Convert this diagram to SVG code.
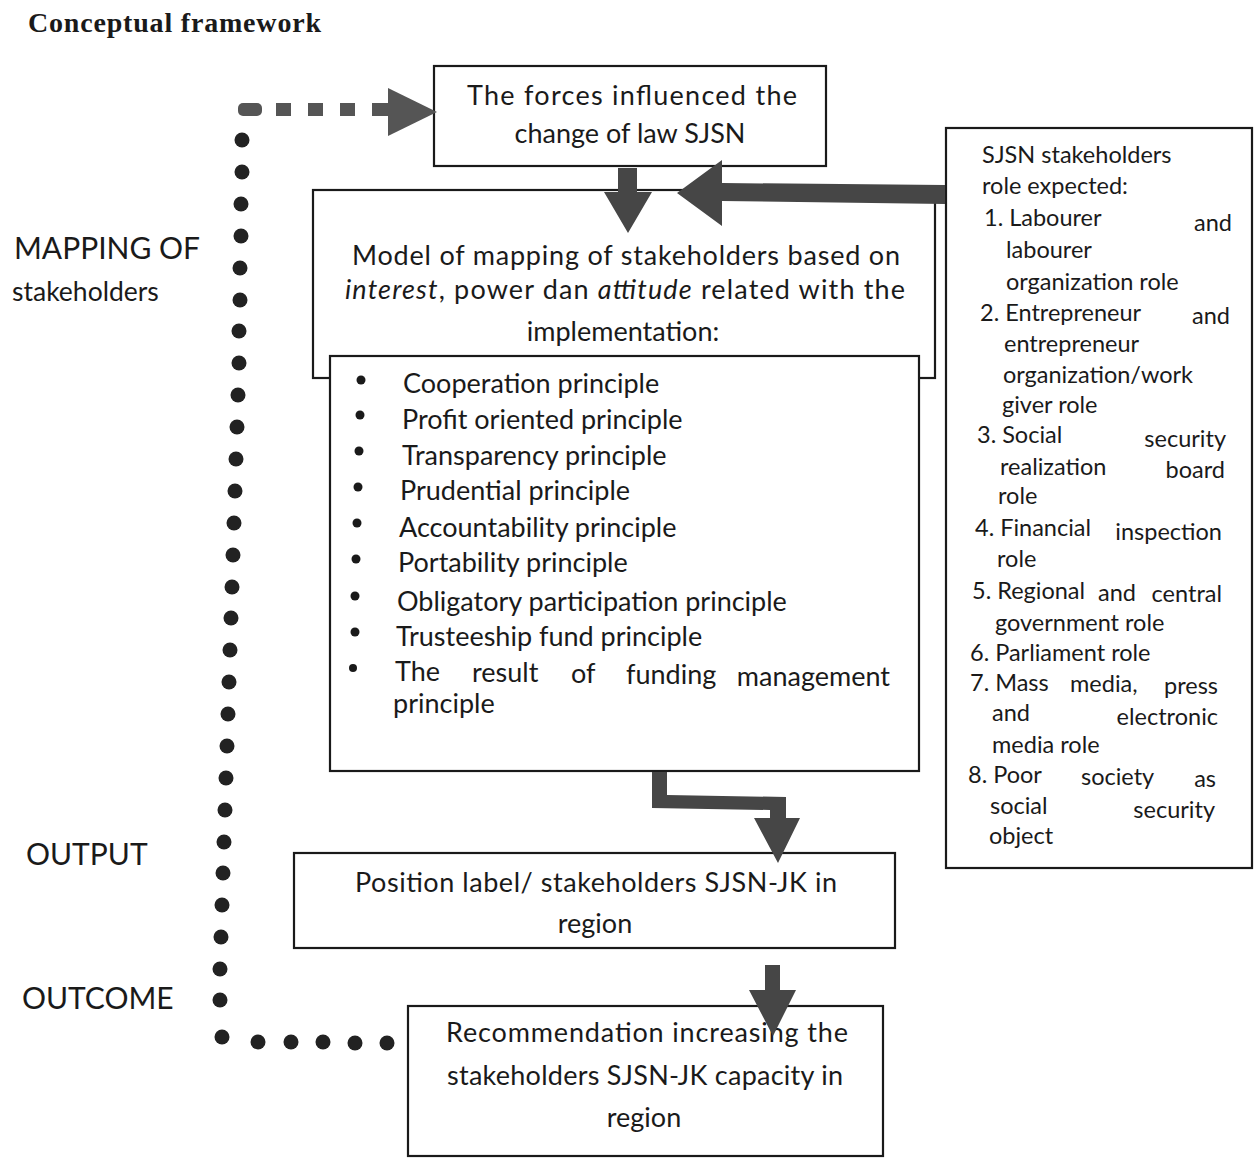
<svg xmlns="http://www.w3.org/2000/svg" width="1258" height="1163" viewBox="0 0 1258 1163">
<style>
.box{fill:#fff;stroke:#1a1a1a;stroke-width:2.2}
.t{font-family:Lato,"Open Sans","DejaVu Sans",sans-serif;fill:#1a1a1a}
.m{font-size:27px}
.r{font-size:23.5px}
.lb{font-size:30px}
.arr{fill:#464646}
.dash{fill:#555}
.dot{fill:#222}
</style>
<rect width="1258" height="1163" fill="#fff"/>
<text x="28" y="32" textLength="293" style="font-family:'Liberation Serif',serif;font-weight:bold;font-size:28px;fill:#1a1a1a">Conceptual framework</text>

<g id="labels">
<text class="t lb" x="14" y="259">MAPPING OF</text>
<text class="t" x="12" y="301" font-size="26.5">stakeholders</text>
<text class="t lb" x="26" y="865">OUTPUT</text>
<text class="t lb" x="22" y="1009">OUTCOME</text>
</g>

<g id="box1">
<rect class="box" x="434" y="66" width="392" height="100"/>
<text class="t m" x="632" y="105" text-anchor="middle" textLength="330" font-size="28">The forces influenced the</text>
<text class="t m" x="630" y="143" text-anchor="middle" font-size="28">change of law SJSN</text>
</g>

<g id="box2">
<rect class="box" x="313" y="190" width="622" height="188"/>
<text class="t m" x="626" y="265" text-anchor="middle" textLength="548">Model of mapping of stakeholders based on</text>
<text class="t m" x="625" y="299" text-anchor="middle" textLength="560"><tspan font-style="italic">interest</tspan>, power dan <tspan font-style="italic">attitude</tspan> related with the</text>
<text class="t m" x="623" y="341" text-anchor="middle">implementation:</text>
</g>

<g id="box3">
<rect class="box" x="330" y="356" width="589" height="415"/>
<g fill="#1a1a1a">
<circle cx="361" cy="380" r="4.5"/><circle cx="360" cy="415" r="4.5"/><circle cx="359" cy="451" r="4.5"/><circle cx="358" cy="487" r="4.5"/><circle cx="357" cy="523" r="4.5"/><circle cx="356" cy="559" r="4.5"/><circle cx="355" cy="596" r="4.5"/><circle cx="355" cy="632" r="4.5"/><circle cx="353" cy="668" r="4"/>
</g>
<text class="t m" x="403" y="393">Cooperation principle</text>
<text class="t m" x="402" y="429">Profit oriented principle</text>
<text class="t m" x="402" y="465">Transparency principle</text>
<text class="t m" x="400" y="500">Prudential principle</text>
<text class="t m" x="399" y="537">Accountability principle</text>
<text class="t m" x="398" y="572">Portability principle</text>
<text class="t m" x="397" y="611">Obligatory participation principle</text>
<text class="t m" x="396" y="646">Trusteeship fund principle</text>
<text class="t m" x="395" y="681">The</text>
<text class="t m" x="472" y="682">result</text>
<text class="t m" x="571" y="683">of</text>
<text class="t m" x="626" y="684">funding</text>
<text class="t m" x="890" y="686" text-anchor="end">management</text>
<text class="t m" x="393" y="713">principle</text>
</g>

<g id="box4">
<rect class="box" x="294" y="853" width="601" height="95"/>
<text class="t m" x="596" y="892" text-anchor="middle" textLength="482">Position label/ stakeholders SJSN-JK in</text>
<text class="t m" x="595" y="933" text-anchor="middle">region</text>
</g>

<g id="box5">
<rect class="box" x="408" y="1006" width="475" height="150"/>
<text class="t m" x="647" y="1042" text-anchor="middle" textLength="402">Recommendation increasing the</text>
<text class="t m" x="645" y="1085" text-anchor="middle" textLength="396">stakeholders SJSN-JK capacity in</text>
<text class="t m" x="644" y="1127" text-anchor="middle">region</text>
</g>

<g id="roles">
<rect class="box" x="946" y="128" width="306" height="740"/>
<g class="t r">
<text x="982" y="163">SJSN stakeholders</text>
<text x="982" y="194">role expected:</text>
<text x="984" y="226">1. Labourer</text><text x="1232" y="231" text-anchor="end">and</text>
<text x="1006" y="258">labourer</text>
<text x="1006" y="290">organization role</text>
<text x="980" y="321">2. Entrepreneur</text><text x="1230" y="324" text-anchor="end">and</text>
<text x="1004" y="352">entrepreneur</text>
<text x="1003" y="383">organization/work</text>
<text x="1002" y="413">giver role</text>
<text x="977" y="443">3. Social</text><text x="1226" y="447" text-anchor="end">security</text>
<text x="1000" y="475">realization</text><text x="1225" y="478" text-anchor="end">board</text>
<text x="998" y="504">role</text>
<text x="975" y="536">4. Financial</text><text x="1222" y="540" text-anchor="end">inspection</text>
<text x="997" y="567">role</text>
<text x="972" y="599">5. Regional</text><text x="1098" y="601">and</text><text x="1222" y="602" text-anchor="end">central</text>
<text x="995" y="631">government role</text>
<text x="970" y="661">6. Parliament role</text>
<text x="970" y="691">7. Mass</text><text x="1070" y="692">media,</text><text x="1218" y="694" text-anchor="end">press</text>
<text x="992" y="721">and</text><text x="1218" y="725" text-anchor="end">electronic</text>
<text x="992" y="753">media role</text>
<text x="968" y="783">8. Poor</text><text x="1081" y="785">society</text><text x="1216" y="787" text-anchor="end">as</text>
<text x="990" y="814">social</text><text x="1215" y="818" text-anchor="end">security</text>
<text x="989" y="844">object</text>
</g>
</g>

<g id="connectors">
<g class="dot">
<circle cx="242" cy="140" r="7.5"/><circle cx="242" cy="172" r="7.5"/><circle cx="241" cy="204" r="7.5"/><circle cx="241" cy="236" r="7.5"/><circle cx="240" cy="268" r="7.5"/><circle cx="240" cy="300" r="7.5"/><circle cx="239" cy="331" r="7.5"/><circle cx="239" cy="363" r="7.5"/><circle cx="238" cy="395" r="7.5"/><circle cx="237" cy="427" r="7.5"/><circle cx="236" cy="459" r="7.5"/><circle cx="235" cy="491" r="7.5"/><circle cx="234" cy="523" r="7.5"/><circle cx="233" cy="555" r="7.5"/><circle cx="232" cy="587" r="7.5"/><circle cx="231" cy="618" r="7.5"/><circle cx="230" cy="650" r="7.5"/><circle cx="229" cy="682" r="7.5"/><circle cx="228" cy="714" r="7.5"/><circle cx="227" cy="746" r="7.5"/><circle cx="226" cy="778" r="7.5"/><circle cx="225" cy="810" r="7.5"/><circle cx="224" cy="842" r="7.5"/><circle cx="223" cy="873" r="7.5"/><circle cx="222" cy="905" r="7.5"/><circle cx="221" cy="937" r="7.5"/><circle cx="220" cy="969" r="7.5"/><circle cx="220" cy="1000" r="7.5"/>
<circle cx="222" cy="1037" r="7.5"/><circle cx="258" cy="1042" r="7.5"/><circle cx="291" cy="1042" r="7.5"/><circle cx="323" cy="1042" r="7.5"/><circle cx="355" cy="1043" r="7.5"/><circle cx="387" cy="1043" r="7.5"/>
</g>
<g class="dash">
<rect x="238" y="103" width="24" height="13" rx="5"/>
<rect x="276" y="103" width="15" height="13"/>
<rect x="308" y="103" width="15" height="13"/>
<rect x="340" y="103" width="15" height="13"/>
<rect x="372" y="103" width="16" height="13"/>
<polygon points="388,88 437,112 388,136"/>
</g>
<polygon class="arr" points="618,168 637,168 637,192 652,192 628,233 604,192 618,192"/>
<polygon class="arr" points="945,185 945,204 722,201 722,226 677,193 722,160 722,183"/>
<polygon class="arr" points="652,772 667,772 667,795 786,797 786,818 800,818 778,863 754,818 770,818 770,810 652,808"/>
<polygon class="arr" points="765,965 780,965 780,990 796,990 773,1036 749,990 765,990"/>
</g>
</svg>
